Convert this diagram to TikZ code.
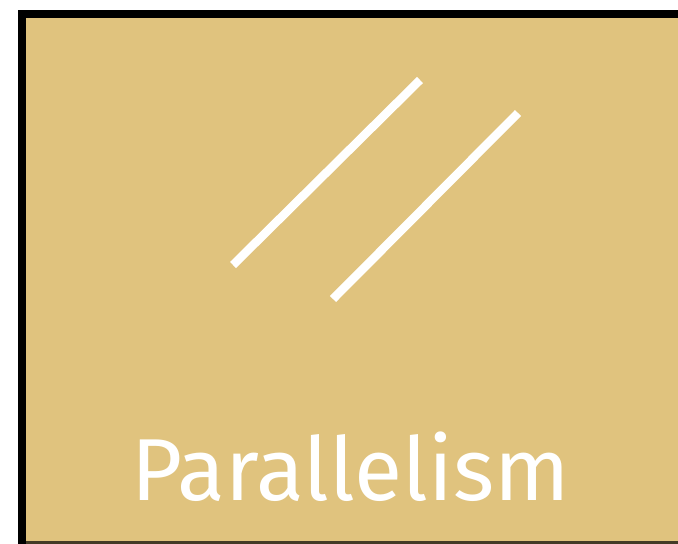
\documentclass[tikz,border=0pt]{standalone}
\usepackage{xcolor}
\usepackage{fontspec}
\usepackage{tikz}
\newfontfamily\labelfont{Fira Sans}
\definecolor{panelTan}{RGB}{224,195,126}

\begin{document}
\begin{tikzpicture}[x=1pt, y=-1pt,
		stroke/.style={white, line width=8.5pt},
		title/.style={white, font=\labelfont\fontsize{88}{88}\selectfont, anchor=base, inner sep=0pt}]
	\useasboundingbox (0,0) rectangle (678,544);
	\clip (0,0) rectangle (678,544);
	% frame and panel
	\fill[black] (18,10) rectangle (690,550);
	\fill[panelTan] (26,18) rectangle (690,541);
	\fill[black!70!panelTan] (26,541) rectangle (690,550);
	% the two parallel strokes
	\coordinate (a1) at (233,265);
	\coordinate (a2) at (420,80);
	\coordinate (b1) at (333,299);
	\coordinate (b2) at (518,113);
	\draw[stroke] (a1) -- (a2);
	\draw[stroke] (b1) -- (b2);
	\node[title] (name) at (350.5,500) {Parallelism};
\end{tikzpicture}
\end{document}
